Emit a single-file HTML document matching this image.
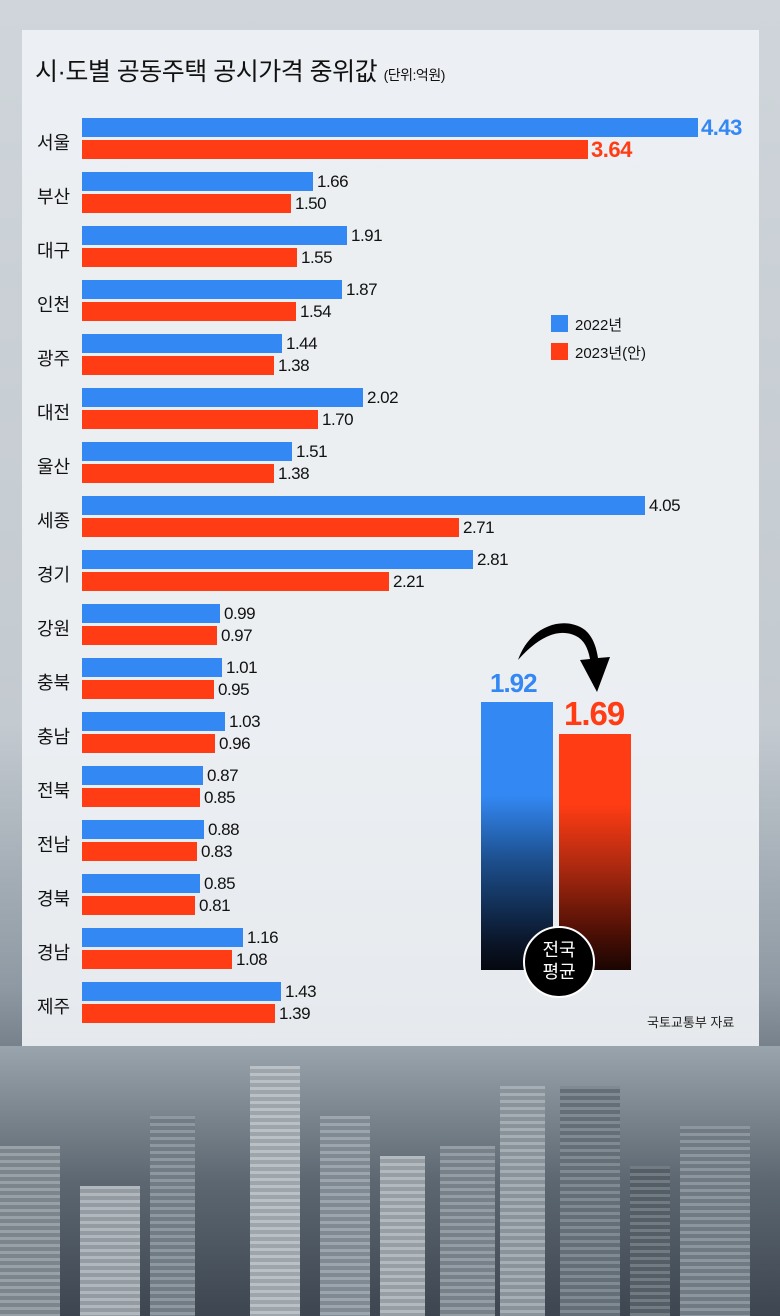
<!DOCTYPE html>
<html><head><meta charset="utf-8"><style>
*{margin:0;padding:0;box-sizing:border-box}
body{width:780px;height:1316px;position:relative;overflow:hidden;font-family:"Liberation Sans","Noto Sans CJK KR",sans-serif;background:linear-gradient(180deg,#cfd5da 0%,#c3cad0 55%,#8e99a3 75%,#4a545e 88%,#2e363e 100%)}
.city{position:absolute;bottom:0;background-image:repeating-linear-gradient(180deg,rgba(255,255,255,0.12) 0 3px,rgba(0,0,0,0.1) 3px 7px)}
.panel{position:absolute;left:22px;top:30px;width:737px;height:1016px;background:rgba(238,241,244,0.93)}
.title{position:absolute;left:35px;top:52px;font-size:25px;color:#111;letter-spacing:-0.5px}
.title small{font-size:14px}
.row{position:absolute;left:0;width:780px;height:44px}
.lab{position:absolute;left:37px;top:11px;font-size:18px;color:#111}
.b{position:absolute;left:82px;height:19px;background:#3388f3}
.r{position:absolute;left:82px;top:22px;height:19px;background:#ff3c14}
.b{top:0}
.v{position:absolute;font-size:17px;color:#111;line-height:19px;letter-spacing:-0.5px}
</style></head><body>
<div style="position:absolute;left:0;bottom:0;width:780px;height:270px;background:linear-gradient(180deg,#9aa4ac,#5d6771 50%,#3d4650)"></div>
<div class="city" style="left:0;width:60px;height:170px;background-color:#8a949c"></div>
<div class="city" style="left:80px;width:60px;height:130px;background-color:#a5adb4"></div>
<div class="city" style="left:150px;width:45px;height:200px;background-color:#7f8a93"></div>
<div class="city" style="left:250px;width:50px;height:250px;background-color:#b0b8be"></div>
<div class="city" style="left:320px;width:50px;height:200px;background-color:#8f99a2"></div>
<div class="city" style="left:380px;width:45px;height:160px;background-color:#a8b0b7"></div>
<div class="city" style="left:440px;width:55px;height:170px;background-color:#858f98"></div>
<div class="city" style="left:500px;width:45px;height:230px;background-color:#9aa3ab"></div>
<div class="city" style="left:560px;width:60px;height:230px;background-color:#6f7a84"></div>
<div class="city" style="left:630px;width:40px;height:150px;background-color:#5e6871"></div>
<div class="city" style="left:680px;width:70px;height:190px;background-color:#7d8892"></div>
<div class="panel"></div>
<div class="title">시·도별 공동주택 공시가격 중위값 <small>(단위:억원)</small></div>

<div class="row" style="top:118px"><div class="lab">서울</div><div class="b" style="width:616px"></div><div class="r" style="width:506px"></div><div class="v" style="left:701px;top:0;font-size:22px;font-weight:bold;color:#3388f3">4.43</div><div class="v" style="left:591px;top:22px;font-size:22px;font-weight:bold;color:#ff3c14">3.64</div></div>
<div class="row" style="top:172px"><div class="lab">부산</div><div class="b" style="width:231px"></div><div class="r" style="width:209px"></div><div class="v" style="left:317px;top:0">1.66</div><div class="v" style="left:295px;top:22px">1.50</div></div>
<div class="row" style="top:226px"><div class="lab">대구</div><div class="b" style="width:265px"></div><div class="r" style="width:215px"></div><div class="v" style="left:351px;top:0">1.91</div><div class="v" style="left:301px;top:22px">1.55</div></div>
<div class="row" style="top:280px"><div class="lab">인천</div><div class="b" style="width:260px"></div><div class="r" style="width:214px"></div><div class="v" style="left:346px;top:0">1.87</div><div class="v" style="left:300px;top:22px">1.54</div></div>
<div class="row" style="top:334px"><div class="lab">광주</div><div class="b" style="width:200px"></div><div class="r" style="width:192px"></div><div class="v" style="left:286px;top:0">1.44</div><div class="v" style="left:278px;top:22px">1.38</div></div>
<div class="row" style="top:388px"><div class="lab">대전</div><div class="b" style="width:281px"></div><div class="r" style="width:236px"></div><div class="v" style="left:367px;top:0">2.02</div><div class="v" style="left:322px;top:22px">1.70</div></div>
<div class="row" style="top:442px"><div class="lab">울산</div><div class="b" style="width:210px"></div><div class="r" style="width:192px"></div><div class="v" style="left:296px;top:0">1.51</div><div class="v" style="left:278px;top:22px">1.38</div></div>
<div class="row" style="top:496px"><div class="lab">세종</div><div class="b" style="width:563px"></div><div class="r" style="width:377px"></div><div class="v" style="left:649px;top:0">4.05</div><div class="v" style="left:463px;top:22px">2.71</div></div>
<div class="row" style="top:550px"><div class="lab">경기</div><div class="b" style="width:391px"></div><div class="r" style="width:307px"></div><div class="v" style="left:477px;top:0">2.81</div><div class="v" style="left:393px;top:22px">2.21</div></div>
<div class="row" style="top:604px"><div class="lab">강원</div><div class="b" style="width:138px"></div><div class="r" style="width:135px"></div><div class="v" style="left:224px;top:0">0.99</div><div class="v" style="left:221px;top:22px">0.97</div></div>
<div class="row" style="top:658px"><div class="lab">충북</div><div class="b" style="width:140px"></div><div class="r" style="width:132px"></div><div class="v" style="left:226px;top:0">1.01</div><div class="v" style="left:218px;top:22px">0.95</div></div>
<div class="row" style="top:712px"><div class="lab">충남</div><div class="b" style="width:143px"></div><div class="r" style="width:133px"></div><div class="v" style="left:229px;top:0">1.03</div><div class="v" style="left:219px;top:22px">0.96</div></div>
<div class="row" style="top:766px"><div class="lab">전북</div><div class="b" style="width:121px"></div><div class="r" style="width:118px"></div><div class="v" style="left:207px;top:0">0.87</div><div class="v" style="left:204px;top:22px">0.85</div></div>
<div class="row" style="top:820px"><div class="lab">전남</div><div class="b" style="width:122px"></div><div class="r" style="width:115px"></div><div class="v" style="left:208px;top:0">0.88</div><div class="v" style="left:201px;top:22px">0.83</div></div>
<div class="row" style="top:874px"><div class="lab">경북</div><div class="b" style="width:118px"></div><div class="r" style="width:113px"></div><div class="v" style="left:204px;top:0">0.85</div><div class="v" style="left:199px;top:22px">0.81</div></div>
<div class="row" style="top:928px"><div class="lab">경남</div><div class="b" style="width:161px"></div><div class="r" style="width:150px"></div><div class="v" style="left:247px;top:0">1.16</div><div class="v" style="left:236px;top:22px">1.08</div></div>
<div class="row" style="top:982px"><div class="lab">제주</div><div class="b" style="width:199px"></div><div class="r" style="width:193px"></div><div class="v" style="left:285px;top:0">1.43</div><div class="v" style="left:279px;top:22px">1.39</div></div>

<div style="position:absolute;left:551px;top:315px;width:17px;height:17px;background:#3388f3"></div>
<div style="position:absolute;left:575px;top:314px;font-size:15px;color:#111">2022년</div>
<div style="position:absolute;left:551px;top:343px;width:17px;height:17px;background:#ff3c14"></div>
<div style="position:absolute;left:575px;top:342px;font-size:15px;color:#111">2023년(안)</div>

<div style="position:absolute;left:481px;top:702px;width:72px;height:268px;background:linear-gradient(180deg,#3388f3 0%,#3388f3 35%,#1c4d8a 60%,#0a1528 90%,#05080f 100%)"></div>
<div style="position:absolute;left:559px;top:734px;width:72px;height:236px;background:linear-gradient(180deg,#ff3c14 0%,#ff3c14 30%,#b02a10 55%,#4a0f05 85%,#1a0502 100%)"></div>
<div style="position:absolute;left:490px;top:668px;font-size:26px;font-weight:bold;color:#3388f3;letter-spacing:-1px">1.92</div>
<div style="position:absolute;left:564px;top:695px;font-size:33px;font-weight:bold;color:#ff3c14;letter-spacing:-1px">1.69</div>
<svg style="position:absolute;left:510px;top:610px" width="110" height="85" viewBox="0 0 110 85">
<path d="M8 50 C20 15 55 5 75 20 C82 26 86 35 88 48 L100 47 L87 82 L70 50 L80 49 C78 38 74 30 66 26 C50 18 30 25 8 50 Z" fill="#000"/>
</svg>
<div style="position:absolute;left:523px;top:926px;width:72px;height:72px;border-radius:50%;background:#000;border:2px solid #fff;color:#fff;font-size:18px;text-align:center;line-height:22px;padding-top:11px">전국<br>평균</div>
<div style="position:absolute;left:647px;top:1012px;font-size:13px;color:#222">국토교통부 자료</div>
</body></html>
